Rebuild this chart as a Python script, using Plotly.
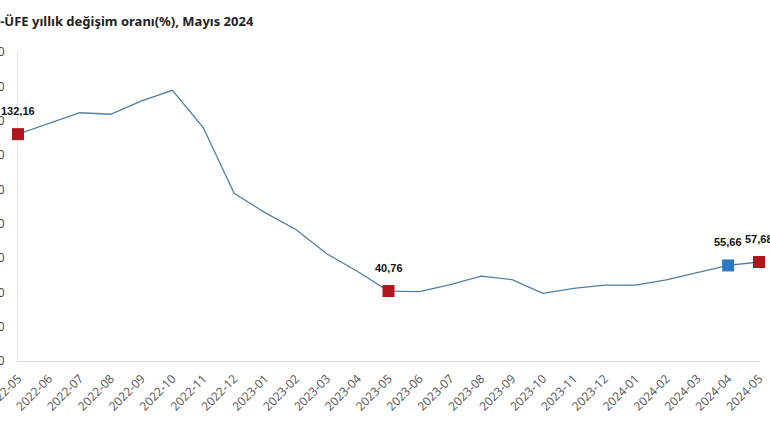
import plotly.graph_objects as go

months = ["2022-05","2022-06","2022-07","2022-08","2022-09","2022-10","2022-11","2022-12",
          "2023-01","2023-02","2023-03","2023-04","2023-05","2023-06","2023-07","2023-08",
          "2023-09","2023-10","2023-11","2023-12","2024-01","2024-02","2024-03","2024-04","2024-05"]
values = [132.16,138.31,144.61,143.75,151.50,157.69,136.02,97.72,
          86.46,76.61,62.43,52.11,40.76,40.42,44.50,49.41,
          47.44,39.39,42.25,44.22,44.20,47.29,51.47,55.66,57.68]

red_months = ["2022-05","2023-05","2024-05"]
red_values = [132.16,40.76,57.68]
blue_months = ["2024-04"]
blue_values = [55.66]

label_months = ["2022-05","2023-05","2024-04","2024-05"]
label_values = [132.16,40.76,55.66,57.68]
label_texts = ["132,16","40,76","55,66","57,68"]

y_ticks = [0,20,40,60,80,100,120,140,160,180]

fig = go.Figure()
fig.add_trace(go.Scatter(x=months, y=values, mode="lines",
                         line=dict(color="#4F7FA8", width=1.3), hoverinfo="skip"))
fig.add_trace(go.Scatter(x=red_months, y=red_values, mode="markers",
                         marker=dict(symbol="square", size=12, color="#B0151E"), cliponaxis=False))
fig.add_trace(go.Scatter(x=blue_months, y=blue_values, mode="markers",
                         marker=dict(symbol="square", size=12, color="#2E78BD"), cliponaxis=False))

for m, v, t in zip(label_months, label_values, label_texts):
    fig.add_annotation(x=m, y=v, text="<b>" + t + "</b>", showarrow=False, yshift=23,
                       font=dict(family="Liberation Sans, Arial", size=11, color="#111"))

fig.add_annotation(xref="paper", yref="paper", x=-0.044, y=1.0, yshift=31,
                   xanchor="left", yanchor="middle", showarrow=False,
                   text="<b>Yİ-ÜFE yıllık değişim oranı(%), Mayıs 2024</b>",
                   font=dict(family="Noto Sans", size=13, color="#222"))

fig.update_layout(
    width=770, height=428,
    margin=dict(l=18, r=11, t=52, b=67),
    plot_bgcolor="white", paper_bgcolor="white",
    showlegend=False,
    xaxis=dict(type="category", categoryorder="array", categoryarray=months,
               tickangle=-45, showgrid=False, showline=True, linecolor="#D9D9D9",
               linewidth=1, ticks="", automargin=False, range=[0, len(months) - 1],
               layer="below traces", ticklabelstandoff=5,
               tickfont=dict(family="Open Sans", size=12, color="#555")),
    yaxis=dict(range=[0, 180], tickvals=y_ticks, showgrid=False, showline=True,
               linecolor="#E3E3E3", linewidth=1, zeroline=False, automargin=False,
               ticks="", ticklabelstandoff=10, layer="below traces",
               tickfont=dict(family="Open Sans", size=12, color="#444")),
)

fig.write_html("out.html")
